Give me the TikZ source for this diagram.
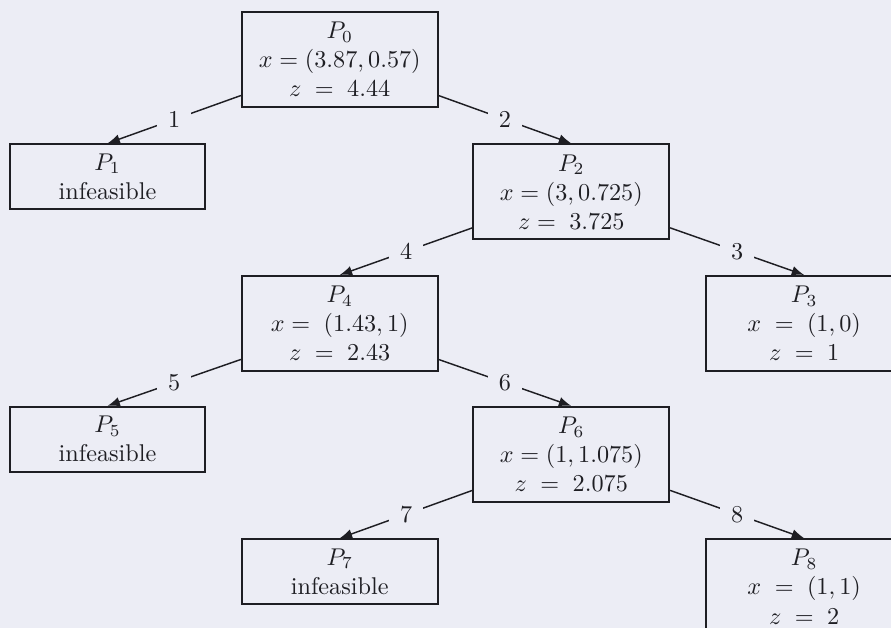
\documentclass[tikz,border=0pt]{standalone}
\usepackage{amsmath,amssymb}
\usepackage{tikz}
\usepackage{xcolor}
\definecolor{paper}{RGB}{236, 237, 245}
\definecolor{inkgray}{RGB}{30, 30, 35}
\usetikzlibrary{arrows.meta,positioning}

\begin{document}
\begin{tikzpicture}[
    subprob/.style={draw=inkgray, thick, text=inkgray, align=center, anchor=north,
        minimum width=2.84cm, minimum height=1.38cm, inner sep=2pt},
    leafbox/.style={subprob, minimum height=0.94cm},
    branch/.style={draw=inkgray, semithick, -{Latex[length=1.8mm,width=1.4mm]}},
    brlabel/.style={fill=paper, text=inkgray, inner sep=4.5pt}
]
    % Paper background
    \fill[paper] (0,0) rectangle (12.93,-9.11);
    \useasboundingbox (0,0) rectangle (12.93,-9.11);

    % Subproblems
    \node[subprob] (P0) at (4.93,-0.16) {$P_0$\\ $x = (3.87, 0.57)$\\ $z \;=\; 4.44$};
    \node[leafbox] (P1) at (1.56,-2.08) {$P_1$\\ infeasible};
    \node[subprob] (P2) at (8.29,-2.08) {$P_2$\\ $x = (3, 0.725)$\\ $z = \;3.725$};
    \node[subprob] (P3) at (11.67,-3.99) {$P_3$\\ $x \;=\; (1, 0)$\\ $z \;=\; 1$};
    \node[subprob] (P4) at (4.93,-3.99) {$P_4$\\ $x = \;(1.43, 1)$\\ $z \;=\; 2.43$};
    \node[leafbox] (P5) at (1.56,-5.89) {$P_5$\\ infeasible};
    \node[subprob] (P6) at (8.29,-5.89) {$P_6$\\ $x = (1, 1.075)$\\ $z \;=\; 2.075$};
    \node[leafbox] (P7) at (4.93,-7.81) {$P_7$\\ infeasible};
    \node[subprob] (P8) at (11.67,-7.81) {$P_8$\\ $x \;=\; (1, 1)$\\ $z \;=\; 2$};

    % Branches
    \draw[branch] (P0.200) -- node[brlabel] {1} (P1.north);
    \draw[branch] (P0.340) -- node[brlabel] {2} (P2.north);
    \draw[branch] (P2.340) -- node[brlabel] {3} (P3.north);
    \draw[branch] (P2.200) -- node[brlabel] {4} (P4.north);
    \draw[branch] (P4.200) -- node[brlabel] {5} (P5.north);
    \draw[branch] (P4.340) -- node[brlabel] {6} (P6.north);
    \draw[branch] (P6.200) -- node[brlabel] {7} (P7.north);
    \draw[branch] (P6.340) -- node[brlabel] {8} (P8.north);
\end{tikzpicture}
\end{document}
